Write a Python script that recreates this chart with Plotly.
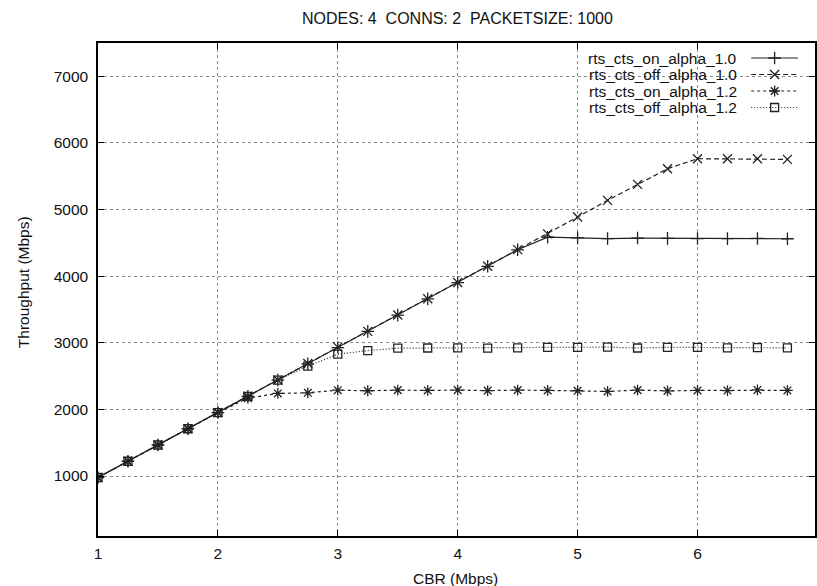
import plotly.graph_objects as go

# CBR offered load (Mbps)
cbr = [1.0, 1.25, 1.5, 1.75, 2.0, 2.25, 2.5, 2.75, 3.0, 3.25, 3.5, 3.75,
       4.0, 4.25, 4.5, 4.75, 5.0, 5.25, 5.5, 5.75, 6.0, 6.25, 6.5, 6.75]

# Throughput (Mbps) per configuration
rts_on_1_0 = [978, 1222, 1466, 1710, 1953, 2197, 2441, 2685, 2929, 3172, 3416, 3660,
              3904, 4148, 4396, 4585, 4575, 4565, 4572, 4568, 4565, 4563, 4566, 4562]
rts_off_1_0 = [978, 1222, 1466, 1710, 1953, 2197, 2441, 2690, 2935, 3172, 3416, 3660,
               3904, 4148, 4399, 4635, 4888, 5138, 5378, 5613, 5763, 5763, 5763, 5753]
rts_on_1_2 = [978, 1222, 1466, 1710, 1953, 2169, 2240, 2249, 2289, 2280, 2290, 2285,
              2290, 2282, 2290, 2285, 2280, 2270, 2290, 2278, 2285, 2283, 2292, 2285]
rts_off_1_2 = [978, 1222, 1466, 1710, 1953, 2197, 2441, 2649, 2829, 2884, 2919, 2922,
               2925, 2920, 2925, 2930, 2932, 2935, 2922, 2932, 2930, 2925, 2928, 2924]

series_names = ["rts_cts_on_alpha_1.0", "rts_cts_off_alpha_1.0",
                "rts_cts_on_alpha_1.2", "rts_cts_off_alpha_1.2"]

x_ticks = [1, 2, 3, 4, 5, 6]
y_ticks = [1000, 2000, 3000, 4000, 5000, 6000, 7000]

# Double gaps kept with non-breaking spaces so SVG does not collapse them
title_text = "NODES: 4\u00a0\u00a0CONNS: 2\u00a0\u00a0PACKETSIZE: 1000"
x_title = "CBR (Mbps)"
y_title = "Throughput (Mbps)"

FONT = "Liberation Sans, Arial, Helvetica, sans-serif"
INK = "#111111"

# Plot area in pixels (left, right, top, bottom)
PL, PR, PT, PB = 98, 817, 43, 536


def px_x(p):
    return (p - PL) / (PR - PL)


def px_y(p):
    return (PB - p) / (PB - PT)


styles = [
    dict(dash="solid", symbol="cross-thin-open", size=9),
    dict(dash="5px,3px", symbol="x-thin-open", size=9),
    dict(dash="3px,3px", symbol="asterisk-open", size=9),
    dict(dash="1px,2px", symbol="square-open", size=8),
]

fig = go.Figure()

for name, ys, st in zip(series_names,
                        [rts_on_1_0, rts_off_1_0, rts_on_1_2, rts_off_1_2],
                        styles):
    fig.add_trace(go.Scatter(
        x=cbr, y=ys, mode="lines+markers", name=name, showlegend=False,
        line=dict(color="#222222", width=1.2, dash=st["dash"]),
        marker=dict(symbol=st["symbol"], size=st["size"],
                    color="#222222", line=dict(color="#222222", width=1.3)),
    ))

# Key drawn gnuplot style: right-aligned labels followed by a sample line
key_rows_y = [58, 74.5, 91, 107.5]
key_text_x = 741
key_line_x = [753, 800]
key_mark_x = 776.5
for name, ky, st in zip(series_names, key_rows_y, styles):
    fig.add_trace(go.Scatter(
        x=key_line_x, y=[ky, ky], mode="lines", xaxis="x2", yaxis="y2",
        showlegend=False, hoverinfo="skip",
        line=dict(color="#222222", width=1.2, dash=st["dash"]),
    ))
    fig.add_trace(go.Scatter(
        x=[key_mark_x], y=[ky], mode="markers", xaxis="x2", yaxis="y2",
        showlegend=False, hoverinfo="skip",
        marker=dict(symbol=st["symbol"], size=st["size"],
                    color="#222222", line=dict(color="#222222", width=1.3)),
    ))
    fig.add_annotation(
        x=key_text_x, y=ky, xref="x2", yref="y2", text=name,
        showarrow=False, xanchor="right", yanchor="middle",
        font=dict(family=FONT, size=15.5, color=INK),
    )

# White box behind the key that masks the grid
fig.add_shape(type="rect", xref="paper", yref="paper",
              x0=px_x(535), x1=1.0, y0=px_y(116), y1=1.0,
              fillcolor="white", line=dict(width=0), layer="between")

axis_common = dict(
    showline=True, linecolor="black", linewidth=1.5, mirror="ticks",
    ticks="inside", ticklen=6, tickwidth=1.2, tickcolor="black",
    showgrid=True, gridcolor="#8a8a8a", gridwidth=1, griddash="dot",
    zeroline=False,
    tickfont=dict(family=FONT, size=15.5, color=INK),
)

fig.update_layout(
    width=817, height=586,
    margin=dict(l=PL, r=817 - PR, t=PT, b=586 - PB),
    paper_bgcolor="white", plot_bgcolor="white",
    xaxis=dict(range=[1, 6.98], tickvals=x_ticks, ticklabelstandoff=3,
               **axis_common),
    yaxis=dict(range=[100, 7500], tickvals=y_ticks, ticklabelstandoff=5,
               **axis_common),
    xaxis2=dict(range=[PL, PR], overlaying="x", visible=False),
    yaxis2=dict(range=[PB, PT], overlaying="y", visible=False),
)

# Title and axis titles
fig.add_annotation(x=px_x(459), y=px_y(18), xref="paper", yref="paper",
                   text=title_text, showarrow=False,
                   xanchor="center", yanchor="middle",
                   font=dict(family=FONT, size=16, color=INK))
fig.add_annotation(x=px_x(456), y=px_y(578), xref="paper", yref="paper",
                   text=x_title, showarrow=False,
                   xanchor="center", yanchor="middle",
                   font=dict(family=FONT, size=15.5, color=INK))
fig.add_annotation(x=px_x(23), y=px_y(282), xref="paper", yref="paper",
                   text=y_title, showarrow=False, textangle=-90,
                   xanchor="center", yanchor="middle",
                   font=dict(family=FONT, size=15.5, color=INK))

fig.write_html("out.html")
